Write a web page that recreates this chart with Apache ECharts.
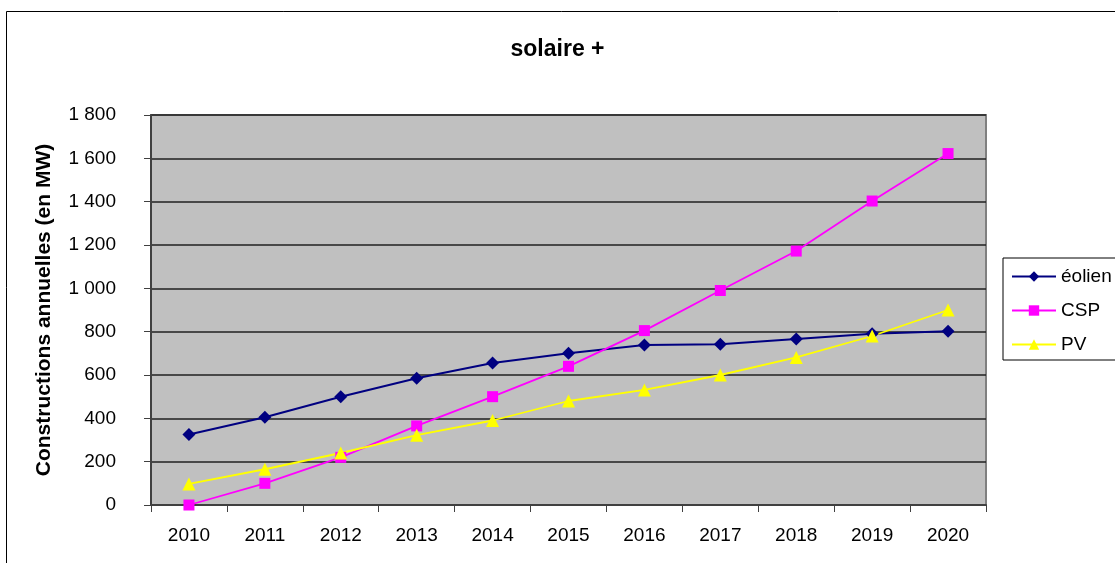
<!DOCTYPE html>
<html>
<head>
<meta charset="utf-8">
<script src="https://cdn.jsdelivr.net/npm/echarts@6/dist/echarts.min.js"></script>
<style>
html,body{margin:0;padding:0;background:#fff;}
#main{width:1115px;height:563px;}
</style>
</head>
<body>
<div id="main"></div>
<script>
const categories = ['2010','2011','2012','2013','2014','2015','2016','2017','2018','2019','2020'];
const eolien = [325, 405, 500, 585, 655, 700, 738, 742, 766, 790, 802];
const csp = [0, 100, 220, 365, 500, 640, 805, 990, 1172, 1403, 1622];
const pv = [97, 165, 240, 322, 390, 480, 531, 600, 681, 780, 900];
const yTicks = [0, 200, 400, 600, 800, 1000, 1200, 1400, 1600, 1800];

const font = '"Liberation Sans", Arial, sans-serif';
const chart = echarts.init(document.getElementById('main'), null, {renderer:'canvas'});
function fmt(v){ return String(v).replace(/\B(?=(\d{3})+(?!\d))/g, ' '); }

chart.setOption({
  animation: false,
  backgroundColor: '#ffffff',
  textStyle: {fontFamily: font},
  graphic: [{
    type: 'rect', z: -10, silent: true,
    shape: {x: 6.5, y: 11.5, width: 1200, height: 700},
    style: {fill: 'none', stroke: '#000', lineWidth: 1}
  }],
  title: {
    text: 'solaire +', left: 'center', top: 33,
    textStyle: {fontSize: 23, fontWeight: 'bold', color: '#000', fontFamily: font}
  },
  legend: {
    orient: 'vertical', left: 1003, top: 258,
    borderColor: '#000', borderWidth: 1,
    padding: [9, 12, 6, 8],
    itemWidth: 44, itemHeight: 13, itemGap: 15,
    textStyle: {fontSize: 19, color: '#000', fontFamily: font, lineHeight: 19},
    data: ['éolien', 'CSP', 'PV']
  },
  grid: {
    left: 151, right: 129, top: 115, bottom: 58,
    show: true, backgroundColor: '#C0C0C0', borderColor: '#808080', borderWidth: 2
  },
  xAxis: {
    type: 'category', data: categories, boundaryGap: true,
    axisLine: {lineStyle: {color: '#404040', width: 2}},
    axisTick: {show: true, length: 7, lineStyle: {color: '#404040', width: 1}},
    axisLabel: {fontSize: 19, color: '#000', margin: 21, fontFamily: font},
    splitLine: {show: false}
  },
  yAxis: {
    type: 'value', min: 0, max: 1800, interval: 200,
    name: 'Constructions annuelles (en MW)', nameLocation: 'middle', nameGap: 96,
    nameTextStyle: {fontSize: 21, fontWeight: 'bold', color: '#000', fontFamily: font},
    axisLine: {show: true, lineStyle: {color: '#404040', width: 2}},
    axisTick: {show: true, length: 7, lineStyle: {color: '#404040', width: 1}},
    axisLabel: {fontSize: 19, color: '#000', margin: 35, fontFamily: font,
      formatter: function(v){ return yTicks.indexOf(v) >= 0 ? fmt(v) : ''; }},
    splitLine: {show: true, lineStyle: {color: '#202020', width: 1.5}}
  },
  series: [
    {name: 'éolien', type: 'line', data: eolien, symbol: 'diamond', symbolSize: 13,
     lineStyle: {color: '#000080', width: 2}, itemStyle: {color: '#000080'}},
    {name: 'CSP', type: 'line', data: csp, symbol: 'rect', symbolSize: 11,
     lineStyle: {color: '#FF00FF', width: 1.8}, itemStyle: {color: '#FF00FF'}},
    {name: 'PV', type: 'line', data: pv, symbol: 'triangle', symbolSize: 13,
     lineStyle: {color: '#FFFF00', width: 1.8}, itemStyle: {color: '#FFFF00'}}
  ]
});
</script>
</body>
</html>
